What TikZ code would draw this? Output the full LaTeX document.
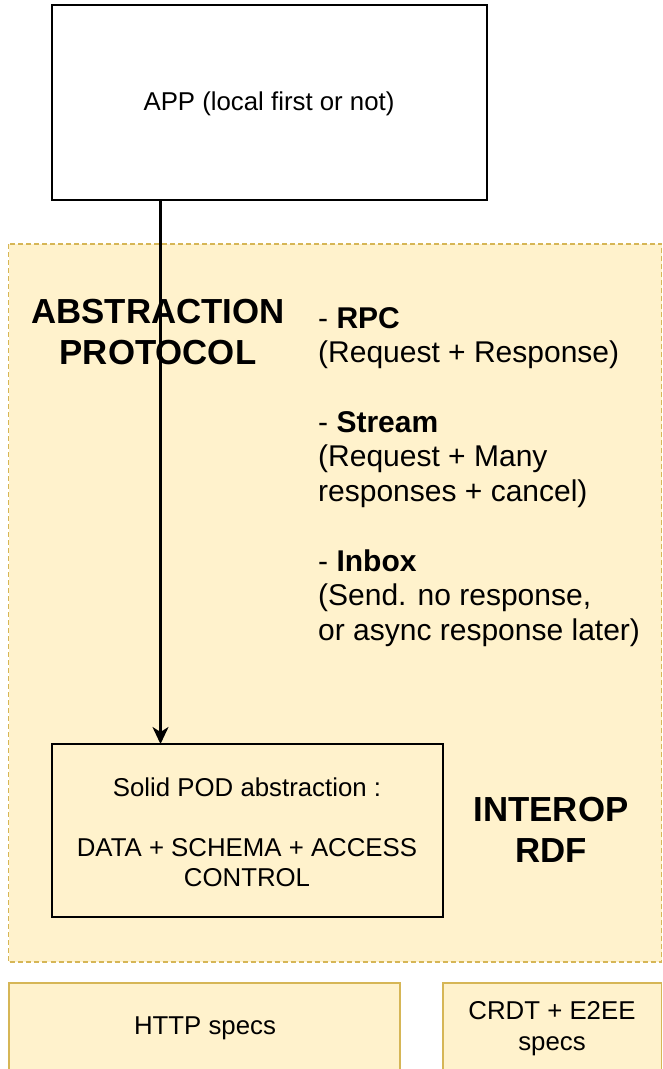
\documentclass[tikz,border=0pt]{standalone}
\usepackage{fontspec}
\setmainfont{Liberation Sans}
\usetikzlibrary{arrows.meta}
\definecolor{ylfill}{HTML}{FFF2CC}
\definecolor{ylstroke}{HTML}{D6B656}
\tikzset{
  blackbox/.style={draw=black, line width=2.2pt},
  ylbox/.style={draw=ylstroke, fill=ylfill, line width=1.6pt},
  ylregion/.style={draw=ylstroke, fill=ylfill, line width=1.6pt, dash pattern=on 5pt off 3pt},
  txt/.style={inner sep=0pt, align=center},
  smalltxt/.style={txt, font=\fontsize{25.8}{30}\selectfont},
  midtxt/.style={inner sep=0pt, align=left, font=\fontsize{30}{34.7}\selectfont},
  bigtxt/.style={txt, font=\fontsize{34.8}{41}\selectfont\bfseries},
  conn/.style={line width=2.2pt, -{Stealth[length=17pt,width=16pt,inset=5pt]}}
}
\begin{document}
\begin{tikzpicture}[x=1pt,y=-1pt]
\useasboundingbox (0,0) rectangle (663,1069);
\clip (0,0) rectangle (663,1069);
% dashed yellow region
\draw[ylregion] (8.5,244) rectangle (661.5,962);
% bottom boxes
\draw[ylbox] (9,983) rectangle (400,1075);
\draw[ylbox] (443,983) rectangle (661.5,1075);
\node[smalltxt] (http) at (205,1028.5) {HTTP specs};
\node[smalltxt, font=\fontsize{25.8}{31}\selectfont] (crdt) at (552,1029) {CRDT + E2EE\\specs};
% APP box
\node[blackbox, minimum width=435pt, minimum height=195pt, inner sep=0pt] (app) at (269.5,102.5) {};
\node[smalltxt] (apptxt) at (269,104) {APP (local first or not)};
% Solid POD box
\node[blackbox, minimum width=391pt, minimum height=173pt, inner sep=0pt] (pod) at (247.5,830.5) {};
\node[smalltxt] (podtxt) at (247,832.5) {Solid POD abstraction :\\[0pt]\mbox{}\\DATA + SCHEMA + ACCESS\\CONTROL};
% titles
\node[bigtxt] (abs) at (158,332.5) {ABSTRACTION\\PROTOCOL};
\node[bigtxt] (interop) at (551,830) {INTEROP\\RDF};
% list
\node[midtxt, anchor=north west] (list) at (318,307) {- \textbf{RPC}\\(Request + Response)\\\mbox{}\\- \textbf{Stream}\\(Request + Many\\responses + cancel)\\\mbox{}\\- \textbf{Inbox}\\(Send. no response,\\or async response later)};
% connector
\coordinate (s) at (160.5,200);
\coordinate (e) at (160.5,744);
\draw[conn] (s) -- (e);
\end{tikzpicture}
\end{document}
